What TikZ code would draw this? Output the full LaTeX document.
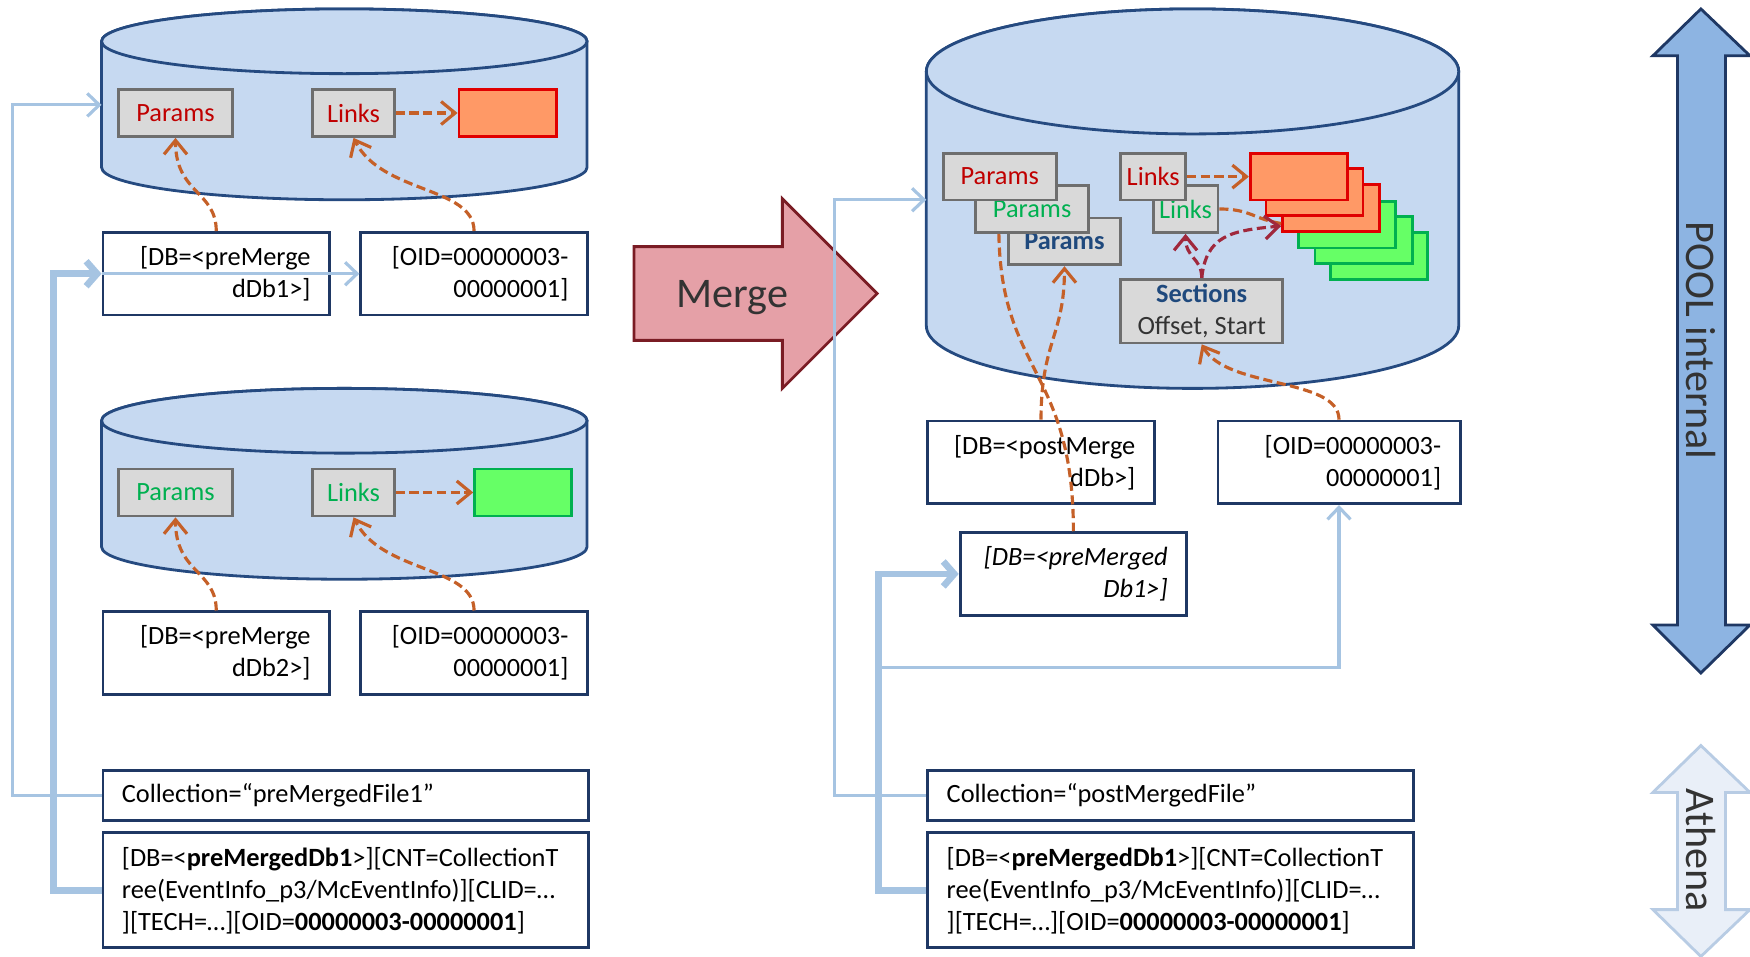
\documentclass[tikz,border=0pt]{standalone}
\usepackage{fontspec}
\setmainfont{Carlito}
\usepackage{tikz}
\usetikzlibrary{arrows.meta}

\definecolor{cylfill}{RGB}{198,217,241}
\definecolor{cylline}{RGB}{37,74,128}
\definecolor{boxgray}{RGB}{217,217,217}
\definecolor{boxline}{RGB}{110,110,110}
\definecolor{navy}{RGB}{31,56,100}
\definecolor{linkblue}{RGB}{166,196,226}
\definecolor{refor}{RGB}{197,96,40}
\definecolor{refred}{RGB}{160,40,60}
\definecolor{txtred}{RGB}{192,0,0}
\definecolor{txtgreen}{RGB}{0,176,80}
\definecolor{txtblue}{RGB}{31,73,125}
\definecolor{dataor}{RGB}{255,153,102}
\definecolor{dataorline}{RGB}{224,0,0}
\definecolor{datagr}{RGB}{102,255,102}
\definecolor{mergefill}{RGB}{229,160,167}
\definecolor{mergeline}{RGB}{122,28,36}
\definecolor{poolfill}{RGB}{141,180,226}
\definecolor{athfill}{RGB}{233,239,248}
\definecolor{athline}{RGB}{184,204,228}

\newlength{\ux}
\setlength{\ux}{0.1116mm}

\begin{document}
\begin{tikzpicture}[x=\ux, y=-\ux,
  font=\fontsize{7.5}{9.1}\selectfont,
  cyl/.style={draw=cylline, fill=cylfill, line width=0.8pt},
  inbox/.style={draw=boxline, fill=boxgray, line width=0.8pt, anchor=north west,
    inner sep=0pt, minimum height=42\ux},
  orrect/.style={draw=dataorline, fill=dataor, line width=0.8pt, anchor=north west,
    inner sep=0pt, minimum width=87\ux, minimum height=42\ux},
  grrect/.style={draw=txtgreen, fill=datagr, line width=0.8pt, anchor=north west,
    inner sep=0pt, minimum width=87\ux, minimum height=42\ux},
  tokbox/.style={draw=navy, fill=white, line width=0.8pt, anchor=north west,
    inner ysep=0pt, inner xsep=17\ux, minimum height=74\ux, text width=169\ux, align=right},
  collbox/.style={draw=navy, fill=white, line width=0.8pt, anchor=north west,
    inner ysep=0pt, inner xsep=17\ux, text width=401\ux, align=left},
  thinlink/.style={draw=linkblue, line width=0.9pt, -{Straight Barb[length=1.2mm,width=2.3mm]}},
  thicklink/.style={draw=linkblue, line width=1.9pt, -{Straight Barb[length=1.1mm,width=2.5mm]}},
  ref/.style={draw=refor, line width=0.9pt, dash pattern=on 2.6pt off 1.3pt},
  refarrow/.style={ref, -{Straight Barb[length=1.4mm,width=2.3mm]}},
  secref/.style={draw=refred, line width=0.9pt, dash pattern=on 2.6pt off 1.3pt,
    -{Straight Barb[length=1.4mm,width=2.3mm]}},
  bigtext/.style={font=\fontsize{12}{14}\selectfont, text=black!80}]
\useasboundingbox (0,0) rectangle (1568,857);

% first input file
\draw[cyl] (91,37) -- (91,150) arc[start angle=180, end angle=0, x radius=217.5, y radius=29]
  -- (526,37) arc[start angle=0, end angle=-180, x radius=217.5, y radius=29] -- cycle;
\draw[cyl] (308.5,37) ellipse [x radius=217.5, y radius=29];
\node[inbox, minimum width=102\ux, text=txtred] (pA) at (105,79) {Params};
\node[inbox, minimum width=73\ux, text=txtred] (lA) at (279,79) {Links};
\node[orrect] (dA) at (410,79) {};
\node[tokbox] (dbA) at (91,207) {[DB=<preMerge\\dDb1>]};
\node[tokbox] (oidA) at (322,207) {[OID=00000003-\\00000001]};
\draw[refarrow] (lA.east) -- (dA.west);
\draw[refarrow] (dbA.north) .. controls +(0,-36) and +(0,50) .. (pA.south);
\draw[refarrow] (oidA.north) .. controls +(0,-40) and +(25,50) .. (lA.south);

% second input file
\draw[cyl] (91,377) -- (91,490) arc[start angle=180, end angle=0, x radius=217.5, y radius=29]
  -- (526,377) arc[start angle=0, end angle=-180, x radius=217.5, y radius=29] -- cycle;
\draw[cyl] (308.5,377) ellipse [x radius=217.5, y radius=29];
\node[inbox, minimum width=102\ux, text=txtgreen] (pB) at (105,419) {Params};
\node[inbox, minimum width=73\ux, text=txtgreen] (lB) at (279,419) {Links};
\node[grrect] (dB) at (424,419) {};
\node[tokbox] (dbB) at (91,547) {[DB=<preMerge\\dDb2>]};
\node[tokbox] (oidB) at (322,547) {[OID=00000003-\\00000001]};
\draw[refarrow] (lB.east) -- (dB.west);
\draw[refarrow] (dbB.north) .. controls +(0,-36) and +(0,50) .. (pB.south);
\draw[refarrow] (oidB.north) .. controls +(0,-40) and +(25,50) .. (lB.south);

% collection of the first file
\node[collbox, minimum height=45\ux] (collA) at (91,689) {Collection=“preMergedFile1”};
\node[collbox, minimum height=103\ux] (recA) at (91,745)
  {[DB=<\textbf{preMergedDb1}>][CNT=CollectionT\\ree(EventInfo\_p3/McEventInfo)][CLID=…\\][TECH=…][OID=\textbf{00000003-00000001}]};
\coordinate (cylA-in) at (91,94);
\draw[thinlink] (collA.west) -- ++(-80,0) |- (cylA-in);
\draw[thicklink] (recA.west) -- ++(-43,0) |- (dbA.west);
\draw[thinlink] (dbA.west) -- (oidA.west);

% merge step
\draw[draw=mergeline, fill=mergefill, line width=0.8pt] (568,221) -- (701,221) -- (701,178)
  -- (786,263) -- (701,348) -- (701,305) -- (568,305) -- cycle;
\node[bigtext] (merge) at (656,267) {Merge};

% merged output file
\draw[cyl] (830,64) -- (830,292) arc[start angle=180, end angle=0, x radius=238.5, y radius=56]
  -- (1307,64) arc[start angle=0, end angle=-180, x radius=238.5, y radius=56] -- cycle;
\draw[cyl] (1068.5,64) ellipse [x radius=238.5, y radius=56];
\node[inbox, minimum width=101\ux, text=txtblue, font=\fontsize{7.5}{9.1}\selectfont\bfseries] (pCb) at (902,194) {Params};
\node[inbox, minimum width=101\ux, text=txtgreen] (pCg) at (873,165) {Params};
\node[inbox, minimum width=101\ux, text=txtred] (pCr) at (844,136) {Params};
\node[inbox, minimum width=58\ux, text=txtgreen] (lCg) at (1032,165) {Links};
\node[inbox, minimum width=58\ux, text=txtred] (lCr) at (1003,136) {Links};
\node[grrect] (gC3) at (1191,207) {};
\node[grrect] (gC2) at (1177,193) {};
\node[grrect] (gC1) at (1162,179) {};
\node[orrect] (oC3) at (1148,164) {};
\node[orrect] (oC2) at (1133,150) {};
\node[orrect] (oC1) at (1119,136) {};
\node[inbox, minimum width=145\ux, minimum height=57\ux, align=center, text=black!80] (sec) at (1003,249)
  {\textcolor{txtblue}{\bfseries Sections}\\Offset, Start};
\draw[refarrow] (lCr.east) -- (oC1.west);
\draw[ref] (lCg.east) .. controls +(28,0) and +(-25,-4) .. ([yshift=-14\ux]oC3.west);
\draw[secref] (sec.north) .. controls +(0,-18) and +(0,22) .. (lCg.south);
\draw[secref] (sec.north) .. controls +(4,-38) and +(-45,4) .. ([yshift=6\ux]oC3.south west);

\node[tokbox] (dbC) at (830,376) {[DB=<postMerge\\dDb>]};
\node[tokbox, text width=183\ux] (oidC) at (1090,376) {[OID=00000003-\\00000001]};
\node[tokbox, font=\fontsize{7.5}{9.1}\selectfont\itshape] (preC) at (859,476) {[DB=<preMerged\\Db1>]};
\draw[refarrow] (dbC.north) .. controls +(0,-70) and +(0,62) .. (pCb.south);
\draw[ref] ([xshift=22\ux]pCg.south west) .. controls +(2,125) and +(0,-145) .. (preC.north);
\draw[refarrow] (oidC.north) .. controls +(0,-38) and +(22,40) .. (sec.south);

% collection of the merged file
\node[collbox, minimum height=45\ux] (collC) at (830,689) {Collection=“postMergedFile”};
\node[collbox, minimum height=103\ux] (recC) at (830,745)
  {[DB=<\textbf{preMergedDb1}>][CNT=CollectionT\\ree(EventInfo\_p3/McEventInfo)][CLID=…\\][TECH=…][OID=\textbf{00000003-00000001}]};
\coordinate (cylC-in) at (830,179);
\coordinate (tapC) at (787,598);
\draw[thinlink] (collC.west) -- ++(-82,0) |- (cylC-in);
\draw[thicklink] (recC.west) -- ++(-43,0) |- (preC.west);
\draw[thinlink] (tapC) -| (oidC.south);

% layers
\draw[draw=navy, fill=poolfill, line width=0.8pt] (1524,8) -- (1568,50) -- (1546,50) -- (1546,560)
  -- (1568,560) -- (1524,603) -- (1481,560) -- (1503,560) -- (1503,50) -- (1481,50) -- cycle;
\node[bigtext, rotate=-90] (pool) at (1524,305) {POOL internal};
\draw[draw=athline, fill=athfill, line width=0.8pt] (1524,668) -- (1568,710) -- (1546,710) -- (1546,815)
  -- (1568,815) -- (1524,857) -- (1481,815) -- (1503,815) -- (1503,710) -- (1481,710) -- cycle;
\node[bigtext, rotate=-90] (ath) at (1524,762) {Athena};
\end{tikzpicture}
\end{document}
